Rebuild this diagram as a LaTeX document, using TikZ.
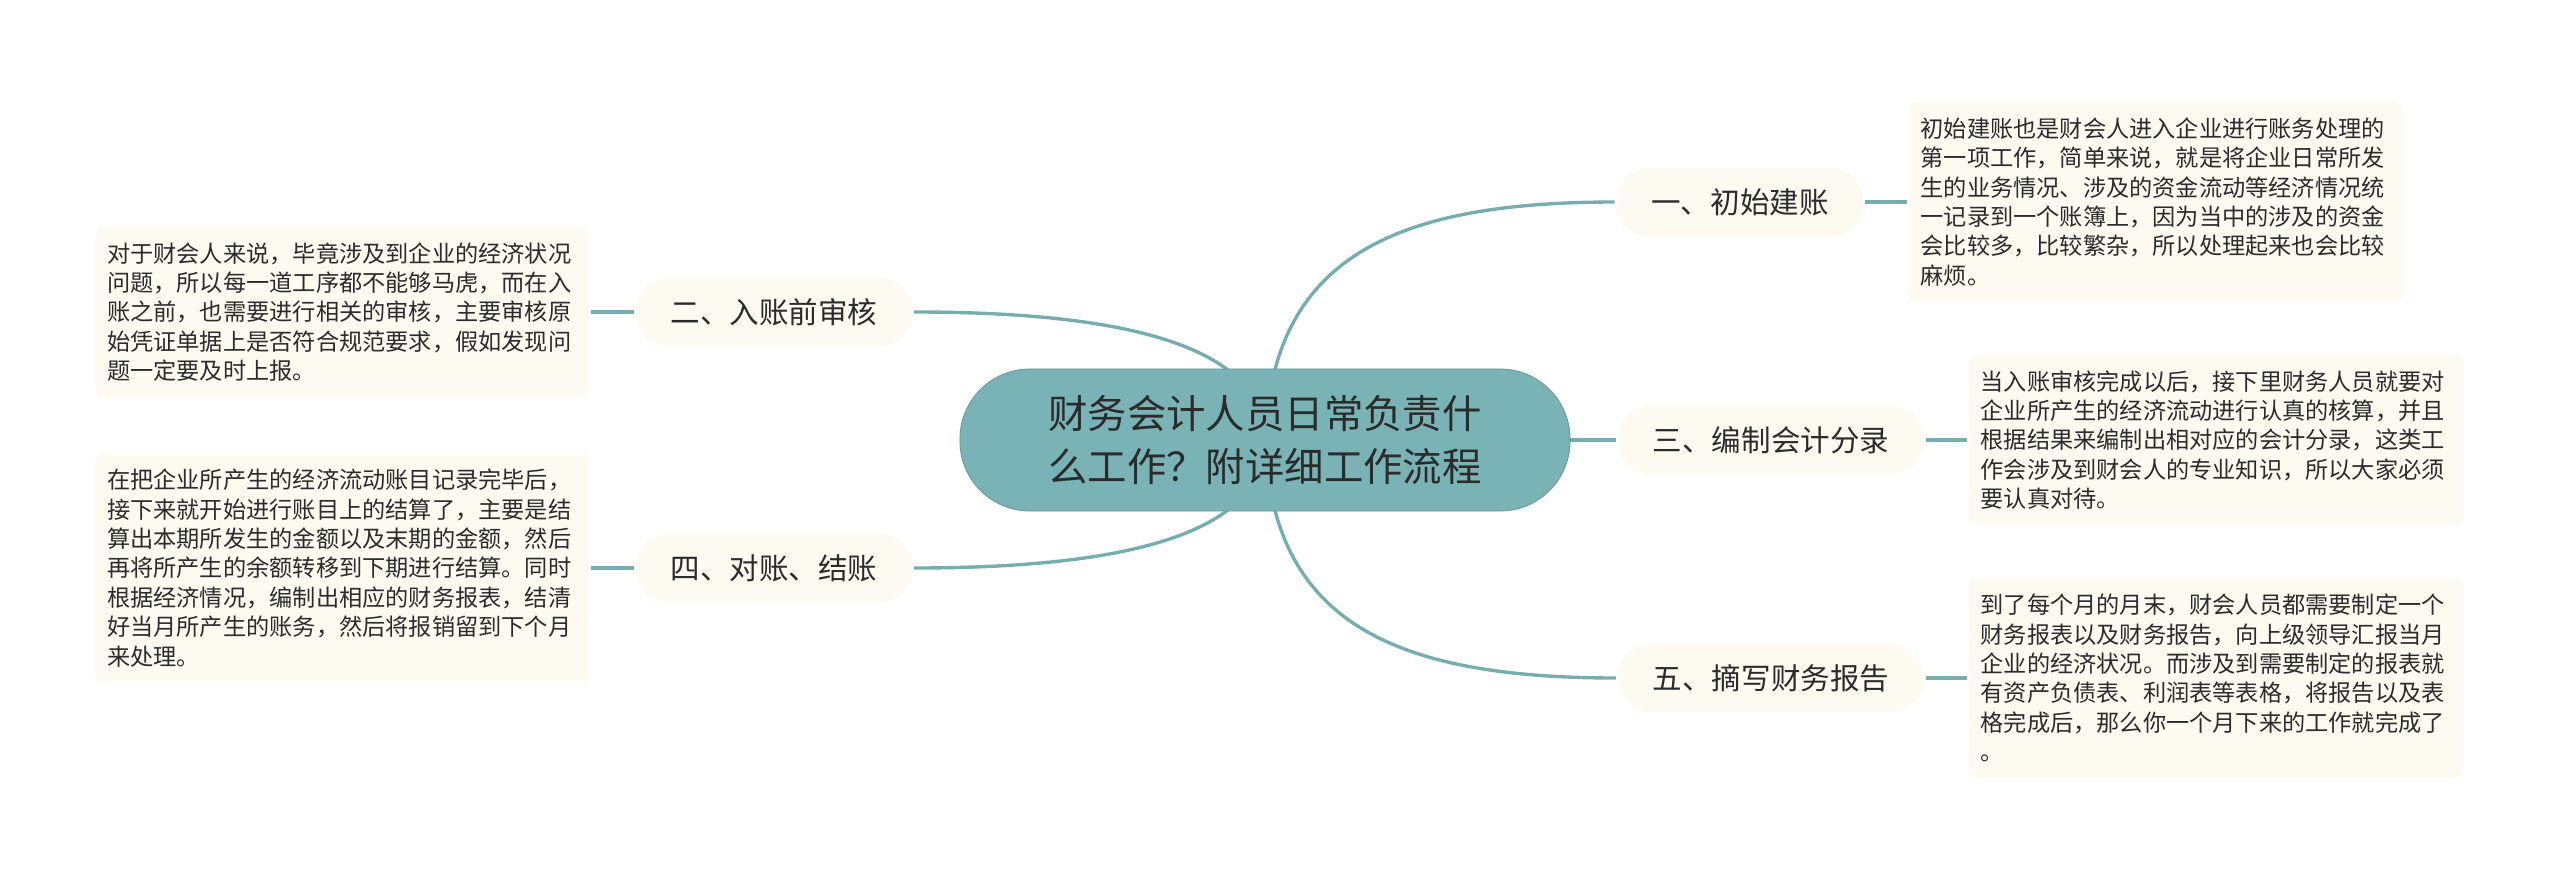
\documentclass[tikz,border=0pt]{standalone}
\usepackage{fontspec}
\setmainfont{Noto Sans CJK SC}
\usepackage{tikz}
\usetikzlibrary{backgrounds}
\definecolor{rootfill}{HTML}{7AB3B5}
\definecolor{linkcol}{HTML}{76AEB0}
\definecolor{boxfill}{HTML}{FCFAF1}
\definecolor{ink}{HTML}{2B2B2B}

\begin{document}
\begin{tikzpicture}[x=0.025cm,y=-0.025cm,line width=2.4pt]
		\tikzstyle{root}=[rectangle,rounded corners=1.75cm,fill=rootfill,draw=rootfill!85!black,line width=0.6pt,minimum width=15.25cm,minimum height=3.55cm,align=center,text=ink,font=\fontsize{28}{37}\selectfont]
		\tikzstyle{branch}=[rectangle,rounded corners=0.85cm,fill=boxfill,minimum height=1.72cm,inner xsep=0.875cm,text=ink,font=\fontsize{21}{25}\selectfont]
		\tikzstyle{leaf}=[rectangle,rounded corners=0.2cm,fill=boxfill,text width=11.75cm,inner xsep=0.3cm,inner ysep=0.4cm,align=left,text=ink,font=\fontsize{16.5}{20.9}\selectfont]
		\tikzstyle{link}=[draw=linkcol,line width=2.4pt]
		\useasboundingbox (0,0) rectangle (2560,881);

		\node[root] (0) at (1265,440) {财务会计人员日常负责什\\么工作？附详细工作流程};
		\node[branch] (1) at (1740,202) {一、初始建账};
		\node[branch] (2) at (774,312) {二、入账前审核};
		\node[branch] (3) at (1771,440) {三、编制会计分录};
		\node[branch] (4) at (774,568) {四、对账、结账};
		\node[branch] (5) at (1771,678) {五、摘写财务报告};

		\node[leaf,anchor=west] (d1) at (1907,202) {初始建账也是财会人进入企业进行账务处理的\\
第一项工作，简单来说，就是将企业日常所发\\
生的业务情况、涉及的资金流动等经济情况统\\
一记录到一个账簿上，因为当中的涉及的资金\\
会比较多，比较繁杂，所以处理起来也会比较\\
麻烦。};
		\node[leaf,anchor=east] (d2) at (591,312) {对于财会人来说，毕竟涉及到企业的经济状况\\
问题，所以每一道工序都不能够马虎，而在入\\
账之前，也需要进行相关的审核，主要审核原\\
始凭证单据上是否符合规范要求，假如发现问\\
题一定要及时上报。};
		\node[leaf,anchor=west] (d3) at (1967,440) {当入账审核完成以后，接下里财务人员就要对\\
企业所产生的经济流动进行认真的核算，并且\\
根据结果来编制出相对应的会计分录，这类工\\
作会涉及到财会人的专业知识，所以大家必须\\
要认真对待。};
		\node[leaf,anchor=east] (d4) at (591,568) {在把企业所产生的经济流动账目记录完毕后，\\
接下来就开始进行账目上的结算了，主要是结\\
算出本期所发生的金额以及末期的金额，然后\\
再将所产生的余额转移到下期进行结算。同时\\
根据经济情况，编制出相应的财务报表，结清\\
好当月所产生的账务，然后将报销留到下个月\\
来处理。};
		\node[leaf,anchor=west] (d5) at (1967,678) {到了每个月的月末，财会人员都需要制定一个\\
财务报表以及财务报告，向上级领导汇报当月\\
企业的经济状况。而涉及到需要制定的报表就\\
有资产负债表、利润表等表格，将报告以及表\\
格完成后，那么你一个月下来的工作就完成了\\
。};

		\begin{scope}[on background layer]
		\draw[link] (0.center) .. controls (1272,260) and (1390,202) .. (1.west);
		\draw[link] (0.center) .. controls (1272,620) and (1390,678) .. (5.west);
		\draw[link] (0.center) -- (3.west);
		\draw[link] (0.center) .. controls (1265,335) and (1090,312) .. (2.east);
		\draw[link] (0.center) .. controls (1265,545) and (1090,568) .. (4.east);
		\end{scope}
		\draw[link] (1) -- (d1);
		\draw[link] (2) -- (d2);
		\draw[link] (3) -- (d3);
		\draw[link] (4) -- (d4);
		\draw[link] (5) -- (d5);
\end{tikzpicture}
\end{document}
